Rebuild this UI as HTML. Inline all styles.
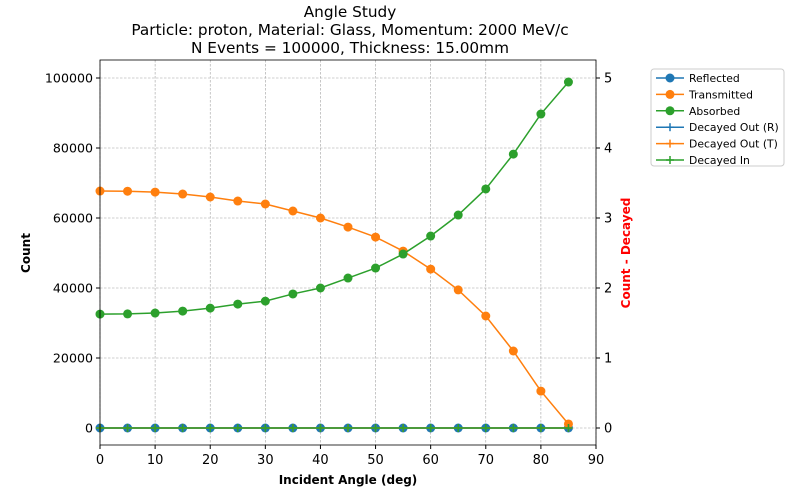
<!DOCTYPE html>
<html><head><meta charset="utf-8"><style>
body{margin:0;background:#fff;font-family:"DejaVu Sans","Liberation Sans",sans-serif}
svg text{font-family:"DejaVu Sans","Liberation Sans",sans-serif}
</style></head><body>
<svg id="chart" width="800" height="500" xmlns="http://www.w3.org/2000/svg"></svg>
<script>
const angles=[0,5,10,15,20,25,30,35,40,45,50,55,60,65,70,75,80,85];
const reflected=[0,0,0,0,0,0,0,0,0,0,0,0,0,0,0,0,0,0];
const transmitted=[67700,67650,67400,66850,66000,64850,64000,62000,60000,57400,54550,50550,45400,39450,32000,22000,10550,1150];
const absorbed=[32550,32600,32850,33400,34250,35400,36250,38300,40000,42850,45700,49700,54850,60850,68300,78250,89700,98850];
const decayedR=[0,0,0,0,0,0,0,0,0,0,0,0,0,0,0,0,0,0];
const decayedT=[0,0,0,0,0,0,0,0,0,0,0,0,0,0,0,0,0,0];
const decayedIn=[0,0,0,0,0,0,0,0,0,0,0,0,0,0,0,0,0,0];
const xTicks=[0,10,20,30,40,50,60,70,80,90];
const yTicks=[0,20000,40000,60000,80000,100000];
const y2Ticks=[0,1,2,3,4,5];
const L=100,R=596,T=60,B=445;
const X=v=>L+(v-0)/90*(R-L);
const Y=v=>428-v*0.0035;
const Y2=v=>428-v*70;
const svg=document.getElementById('chart');
const NS='http://www.w3.org/2000/svg';
function mk(tag,attrs,parent){const e=document.createElementNS(NS,tag);for(const k in attrs)e.setAttribute(k,attrs[k]);(parent||svg).appendChild(e);return e;}
function txt(s,attrs){const e=mk('text',attrs);e.textContent=s;return e;}
mk('rect',{x:L,y:T,width:R-L,height:B-T,fill:'#fff'});
const grid=mk('g',{});
xTicks.forEach(v=>{mk('line',{x1:X(v),x2:X(v),y1:T,y2:B,stroke:'#a0a0a0','stroke-width':0.6,'stroke-dasharray':'2.5,1.5'},grid);
 mk('line',{x1:X(v),x2:X(v),y1:B,y2:B+4,stroke:'#000'});
 const t=txt(v,{x:X(v),y:B+19,'font-size':13,'text-anchor':'middle'});});
yTicks.forEach(v=>{mk('line',{x1:L,x2:R,y1:Y(v),y2:Y(v),stroke:'#a0a0a0','stroke-width':0.6,'stroke-dasharray':'2.5,1.5'},grid);
 mk('line',{x1:L-4,x2:L,y1:Y(v),y2:Y(v),stroke:'#000'});
 const t=txt(v,{x:L-7,y:Y(v)+4.5,'font-size':12.6,'text-anchor':'end'});});
y2Ticks.forEach(v=>{mk('line',{x1:R,x2:R+4,y1:Y2(v),y2:Y2(v),stroke:'#000'});
 const t=txt(v,{x:R+8,y:Y2(v)+4.5,'font-size':13});});
const series=[
 {name:'Reflected',data:reflected,c:'#1f77b4',m:'o',ax:Y},
 {name:'Transmitted',data:transmitted,c:'#ff7f0e',m:'o',ax:Y},
 {name:'Absorbed',data:absorbed,c:'#2ca02c',m:'o',ax:Y},
 {name:'Decayed Out (R)',data:decayedR,c:'#1f77b4',m:'+',ax:Y2},
 {name:'Decayed Out (T)',data:decayedT,c:'#ff7f0e',m:'+',ax:Y2},
 {name:'Decayed In',data:decayedIn,c:'#2ca02c',m:'+',ax:Y2}];
function marker(g,m,x,y,c){if(m==='o')mk('circle',{cx:x,cy:y,r:4.5,fill:c},g);else{mk('line',{x1:x-4,x2:x+4,y1:y,y2:y,stroke:c,'stroke-width':1.5},g);mk('line',{x1:x,x2:x,y1:y-4,y2:y+4,stroke:c,'stroke-width':1.5},g);}}
series.forEach(s=>{const g=mk('g',{});
 mk('polyline',{points:angles.map((a,i)=>X(a)+','+s.ax(s.data[i])).join(' '),fill:'none',stroke:s.c,'stroke-width':1.5},g);
 angles.forEach((a,i)=>marker(g,s.m,X(a),s.ax(s.data[i]),s.c));});
mk('rect',{x:L,y:T,width:R-L,height:B-T,fill:'none',stroke:'#000','stroke-width':0.8});
[['Angle Study',17],['Particle: proton, Material: Glass, Momentum: 2000 MeV/c',35],['N Events = 100000, Thickness: 15.00mm',53]].forEach(([s,y])=>{const t=txt(s,{x:350,y:y,'font-size':15.3,'text-anchor':'middle'});});
let t=txt('Incident Angle (deg)',{x:348,y:484,'font-size':12,'font-weight':'bold','text-anchor':'middle'});
t=txt('Count',{x:30,y:253,'font-size':12,'font-weight':'bold','text-anchor':'middle',transform:'rotate(-90 30 253)'});
t=txt('Count - Decayed',{x:630,y:253,'font-size':12,'font-weight':'bold',fill:'red','text-anchor':'middle',transform:'rotate(-90 630 253)'});
const lg=mk('g',{});
mk('rect',{x:651,y:69,width:133,height:97,rx:3,fill:'#fff',stroke:'#ccc'},lg);
series.forEach((s,i)=>{const y=78+i*16.4;const e=mk('g',{},lg);
 mk('line',{x1:656,x2:684,y1:y,y2:y,stroke:s.c,'stroke-width':1.5},e);marker(e,s.m,670,y,s.c);
 const tt=mk('text',{x:689,y:y+4,'font-size':10.8},e);tt.textContent=s.name;});
</script>
</body></html>
